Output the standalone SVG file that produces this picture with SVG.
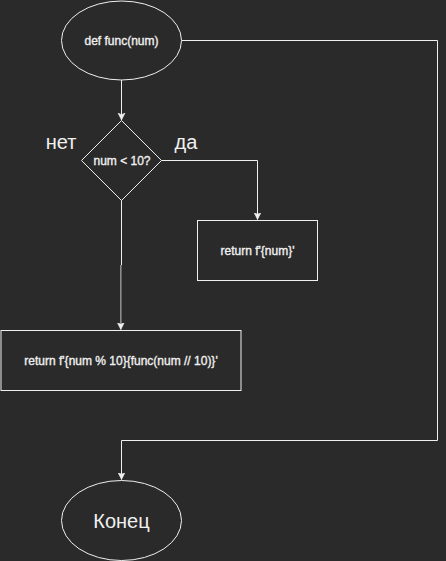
<svg xmlns="http://www.w3.org/2000/svg" width="446" height="561" viewBox="0 0 446 561">
<style>
.shape{fill:#2a2a2a;stroke:#f0f0f0;stroke-width:1}
.t{font-family:"Liberation Sans",Arial,sans-serif;fill:#f0f0f0;text-anchor:middle;dominant-baseline:central}
.s{font-size:12px;stroke:#f0f0f0;stroke-width:0.35}
.l{font-size:20px}
.edge{fill:none;stroke:#f0f0f0;stroke-width:1}
</style>
<defs>
<marker id="arr" markerWidth="10" markerHeight="10" refX="7" refY="4" orient="auto" markerUnits="userSpaceOnUse">
<path d="M0,0.5 L7,4 L0,7.5 L1.8,4 Z" fill="#f0f0f0" stroke="#f0f0f0" stroke-width="0.6"/>
</marker>
</defs>
<rect width="446" height="561" fill="#2a2a2a"/>
<g id="connectors">
<path class="edge" d="M121.5,80 L121.5,120" marker-end="url(#arr)"/>
<path class="edge" d="M161.5,160.5 L257.5,160.5 L257.5,219.5" marker-end="url(#arr)"/>
<path class="edge" d="M121.5,200 L121.5,265"/>
<path d="M120.8,265 L120.8,329.5" fill="none" stroke="#8c8c8c" stroke-width="1.6" marker-end="url(#arr)"/>
<path class="edge" d="M181.5,40.5 L437.5,40.5 L437.5,440.5 L121.5,440.5 L121.5,479.5" marker-end="url(#arr)"/>
</g>
<g id="start">
<ellipse class="shape" cx="121.5" cy="40.5" rx="60" ry="39.5"/>
<text class="t s" x="121.5" y="41">def func(num)</text>
</g>
<g id="decision">
<polygon class="shape" points="121.5,120.5 161.5,160.5 121.5,200.5 81.5,160.5"/>
<text class="t s" x="122" y="161">num &lt; 10?</text>
</g>
<g id="label-no">
<text class="t l" x="61" y="142">нет</text>
</g>
<g id="label-yes">
<text class="t l" x="186" y="142">да</text>
</g>
<g id="return-num">
<rect class="shape" x="197.5" y="220.5" width="120" height="60"/>
<text class="t s" x="257.5" y="250.5">return f'{num}'</text>
</g>
<g id="return-rec">
<rect class="shape" x="1" y="330.5" width="240" height="60"/>
<text class="t s" x="121" y="360.5">return f'{num % 10}{func(num // 10)}'</text>
</g>
<g id="end">
<ellipse class="shape" cx="121.5" cy="520.5" rx="60" ry="40"/>
<text class="t l" x="121.5" y="521">Конец</text>
</g>
</svg>
